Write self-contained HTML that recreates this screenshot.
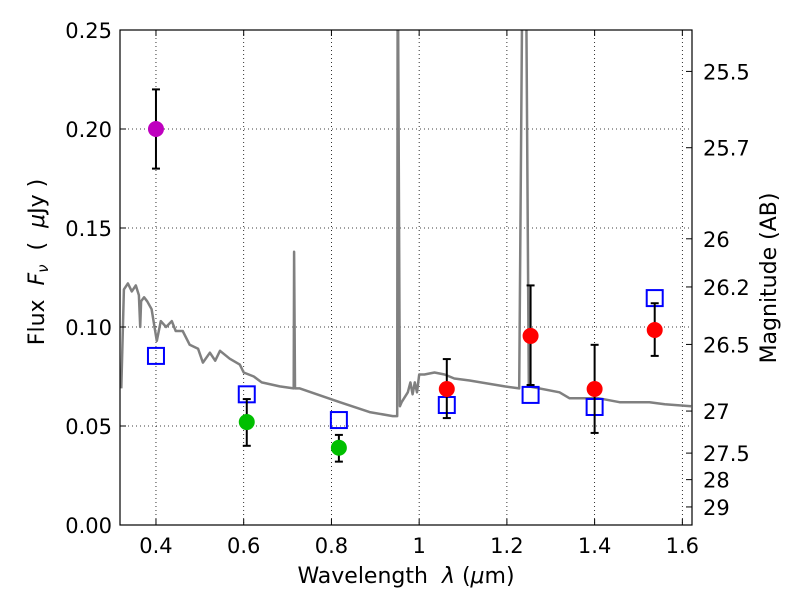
<!DOCTYPE html>
<html><head><meta charset="utf-8"><style>
body{margin:0;background:#fff}
svg{display:block;font-family:"DejaVu Sans","Liberation Sans",sans-serif}
text{white-space:pre}
</style></head><body>
<svg id="chart" width="800" height="600" viewBox="0 0 800 600"></svg>
<script>
const specX=[0.321,0.327,0.336,0.345,0.354,0.361,0.364,0.366,0.373,0.38,0.39,0.402,0.411,0.423,0.436,0.445,0.461,0.477,0.496,0.507,0.523,0.535,0.546,0.568,0.591,0.6,0.623,0.641,0.682,0.714,0.715,0.717,0.719,0.728,0.819,0.887,0.94,0.950,0.951,0.956,0.96,0.974,0.98,0.985,0.99,0.995,1.0,1.012,1.035,1.058,1.08,1.115,1.195,1.228,1.236,1.243,1.25,1.32,1.343,1.41,1.457,1.525,1.56,1.62];
const specY=[0.069,0.119,0.122,0.118,0.121,0.116,0.100,0.113,0.115,0.113,0.109,0.093,0.103,0.100,0.103,0.098,0.098,0.091,0.089,0.082,0.087,0.083,0.088,0.084,0.081,0.077,0.075,0.072,0.070,0.069,0.138,0.069,0.069,0.069,0.062,0.057,0.055,0.055,0.30,0.060,0.062,0.067,0.072,0.066,0.072,0.067,0.076,0.076,0.077,0.076,0.074,0.073,0.070,0.069,0.30,0.30,0.070,0.067,0.064,0.064,0.062,0.062,0.061,0.060];
const bandX=[0.40,0.607,0.817,1.063,1.254,1.40,1.537];
const modelY=[0.0854,0.066,0.053,0.0606,0.0657,0.0596,0.1146];
const obsX=[0.40,0.607,0.817,1.063,1.254,1.40,1.537];
const obsY=[0.200,0.052,0.039,0.0687,0.0955,0.0687,0.0985];
const obsLo=[0.180,0.040,0.032,0.054,0.0707,0.0465,0.0854];
const obsHi=[0.220,0.0636,0.0455,0.0838,0.121,0.091,0.112];
const obsColor=['#bf00bf','#00bf00','#00bf00','#ff0000','#ff0000','#ff0000','#ff0000'];
const xTicks=[0.4,0.6,0.8,1.0,1.2,1.4,1.6];
const xTickLabels=['0.4','0.6','0.8','1','1.2','1.4','1.6'];
const yTicks=[0,0.05,0.10,0.15,0.20,0.25];
const yTickLabels=['0.00','0.05','0.10','0.15','0.20','0.25'];
const magTicks=[25.5,25.7,26,26.2,26.5,27,27.5,28,29];
const magTickLabels=['25.5','25.7','26','26.2','26.5','27','27.5','28','29'];

const L=120,R=692,T=30,B=525,X0=0.318,X1=1.622,Y0=0,Y1=0.25;
const sx=v=>L+(v-X0)/(X1-X0)*(R-L);
const sy=v=>B-(v-Y0)/(Y1-Y0)*(B-T);
const NS='http://www.w3.org/2000/svg';
const svg=document.getElementById('chart');
function mk(tag,attrs,parent){const e=document.createElementNS(NS,tag);for(const k in attrs)e.setAttribute(k,attrs[k]);(parent||svg).appendChild(e);return e;}

const defs=mk('defs',{});
const cp=mk('clipPath',{id:'clip'},defs);mk('rect',{x:L,y:T,width:R-L,height:B-T},cp);

const grid=mk('g',{});


xTicks.forEach(v=>{mk('line',{x1:sx(v),x2:sx(v),y1:T,y2:B,stroke:'#000','stroke-width':0.8,'stroke-dasharray':'1,3'},grid);});
yTicks.forEach(v=>{mk('line',{x1:L,x2:R,y1:sy(v),y2:sy(v),stroke:'#000','stroke-width':0.8,'stroke-dasharray':'1,3'},grid);});

const pts=specX.map((x,i)=>sx(x).toFixed(1)+','+sy(specY[i]).toFixed(1)).join(' ');
const spec=mk('polyline',{points:pts,fill:'none',stroke:'#808080','stroke-width':2.5,'stroke-linejoin':'round','clip-path':'url(#clip)'});



bandX.forEach((x,i)=>{
  const r=mk('rect',{x:sx(x)-8,y:sy(modelY[i])-8,width:16,height:16,fill:'none',stroke:'#0000ff','stroke-width':2});
  
  
});
obsX.forEach((x,i)=>{
  const g=mk('g',{});
  
  
  const cx=sx(x);
  mk('line',{x1:cx,x2:cx,y1:sy(obsLo[i]),y2:sy(obsHi[i]),stroke:'#000','stroke-width':2},g);
  mk('line',{x1:cx-4,x2:cx+4,y1:sy(obsLo[i]),y2:sy(obsLo[i]),stroke:'#000','stroke-width':2},g);
  mk('line',{x1:cx-4,x2:cx+4,y1:sy(obsHi[i]),y2:sy(obsHi[i]),stroke:'#000','stroke-width':2},g);
  mk('circle',{cx:cx,cy:sy(obsY[i]),r:8,fill:obsColor[i]},g);
});

const fr=mk('rect',{x:L,y:T,width:R-L,height:B-T,fill:'none',stroke:'#000','stroke-width':1.2});



xTicks.forEach((v,i)=>{
  mk('line',{x1:sx(v),x2:sx(v),y1:B,y2:B-6,stroke:'#000'});
  mk('line',{x1:sx(v),x2:sx(v),y1:T,y2:T+6,stroke:'#000'});
  const t=mk('text',{x:sx(v),y:B+28,'text-anchor':'middle','font-size':21});
  t.textContent=xTickLabels[i];
  
  
});
yTicks.forEach((v,i)=>{
  mk('line',{x1:L,x2:L+6,y1:sy(v),y2:sy(v),stroke:'#000'});
  const t=mk('text',{x:L-8,y:sy(v)+8,'text-anchor':'end','font-size':21});
  t.textContent=yTickLabels[i];
  
  
});
magTicks.forEach((m,i)=>{
  const f=Math.pow(10,(23.9-m)/2.5);
  const y=sy(f);
  mk('line',{x1:R,x2:R-6,y1:y,y2:y,stroke:'#000'});
  const t=mk('text',{x:R+11,y:y+8,'font-size':21});
  t.textContent=magTickLabels[i];
  
  
});
</script>
<svg style="position:absolute;left:0;top:0" width="800" height="600">
<text x="406" y="583" text-anchor="middle" font-size="22" font-family="DejaVu Sans, Liberation Sans, sans-serif">Wavelength  <tspan font-style="italic">λ</tspan> (<tspan font-style="italic">μ</tspan>m)</text>
<text transform="translate(44,262) rotate(-90)" text-anchor="middle" font-size="22" font-family="DejaVu Sans, Liberation Sans, sans-serif">Flux  <tspan font-style="italic">F</tspan><tspan font-style="italic" font-size="15" dy="4">ν</tspan><tspan dy="-4">  (  </tspan><tspan font-style="italic">μ</tspan>Jy )</text>
<text transform="translate(776,278) rotate(-90)" text-anchor="middle" font-size="22" font-family="DejaVu Sans, Liberation Sans, sans-serif">Magnitude (AB)</text>
</svg>
</body></html>
